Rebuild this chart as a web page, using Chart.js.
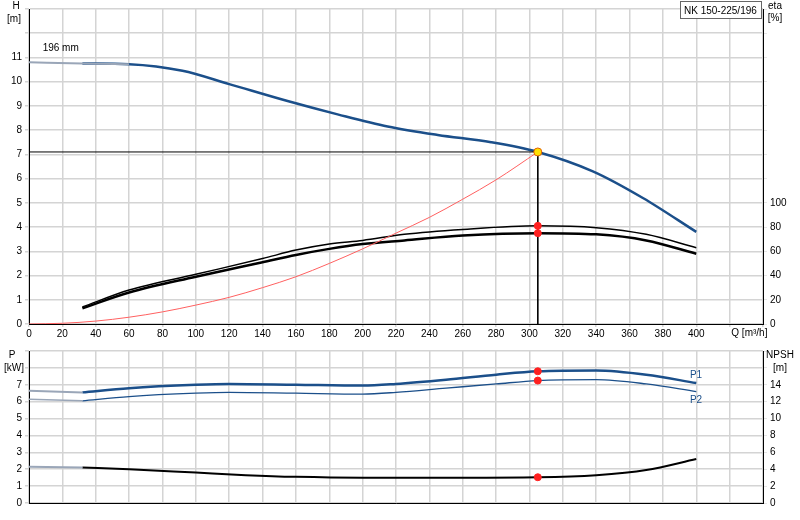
<!DOCTYPE html>
<html><head><meta charset="utf-8">
<script src="https://cdn.jsdelivr.net/npm/chart.js@4/dist/chart.umd.min.js"></script>
<style>body{margin:0;background:#fff;width:800px;height:520px;overflow:hidden;font-family:"Liberation Sans",Arial,sans-serif}
#w1{position:absolute;left:0;top:0;width:800px;height:340px}#w2{position:absolute;left:0;top:340px;width:800px;height:180px}</style>
</head><body>
<div id="w1"><canvas id="c1"></canvas></div><div id="w2"><canvas id="c2"></canvas></div>
<script>
// ---- data ----
const hQ   = [0, 32, 60, 92, 120, 155, 185, 215, 245, 277, 305, 338, 368, 400];
const hVal = [10.8, 10.75, 10.72, 10.45, 9.9, 9.2, 8.65, 8.15, 7.8, 7.5, 7.1, 6.3, 5.2, 3.8];
const etaQ  = [32, 60, 100, 140, 160, 180, 200, 225, 260, 305, 340, 370, 400];
const etaP  = [13, 26, 39, 51, 57, 62, 66, 69, 73, 75, 74, 69, 58];
const etaP1 = [14, 28, 41, 54, 61, 66, 69, 74, 78, 81, 79.5, 74, 63];
const sysQ = [0, 20, 40, 60, 80, 100, 120, 140, 160, 180, 200, 220, 240, 260, 280, 305];
const sysH = [0, 0.03, 0.12, 0.28, 0.5, 0.78, 1.1, 1.5, 1.95, 2.5, 3.1, 3.75, 4.4, 5.15, 5.95, 7.1];
const pQ  = [0, 32, 60, 100, 120, 160, 200, 220, 250, 280, 305, 340, 370, 400];
const p1  = [6.65, 6.55, 6.8, 7.0, 7.05, 7.0, 6.95, 7.05, 7.3, 7.6, 7.8, 7.85, 7.6, 7.1];
const p2  = [6.15, 6.05, 6.3, 6.5, 6.55, 6.5, 6.45, 6.55, 6.8, 7.05, 7.25, 7.3, 7.05, 6.6];
const npQ = [0, 32, 60, 100, 130, 160, 200, 260, 305, 340, 370, 400];
const npsh = [4.3, 4.2, 4.0, 3.6, 3.3, 3.1, 3.0, 3.0, 3.05, 3.3, 3.9, 5.2];
const dutyQ = 305, dutyH = 7.1, dutyEta = [81, 75], dutyP = [7.8, 7.25], dutyNpsh = 3.05;
const xTicksMax = 400;

const pts=(xs,ys,from,to)=>xs.map((x,i)=>({x,y:ys[i]})).filter(p=>p.x>=(from??-1)&&p.x<=(to??1e9));
const FONT={family:"'Liberation Sans', Arial, sans-serif",size:10};
Chart.defaults.font=FONT; Chart.defaults.color='#000';
const BLUE='#1b4f8a', GREY='#9aa6b8', GRID='#d4d4d4';
const fixW=w=>(s)=>{s.width=w;}; const fixH=h=>(s)=>{s.height=h;};
const ln=(data,color,w,axis)=>({type:'line',data,borderColor:color,borderWidth:w,pointRadius:0,cubicInterpolationMode:'monotone',yAxisID:axis||'y',fill:false,order:5});
const dot=(data,axis,bg,bc)=>({type:'scatter',data,yAxisID:axis||'y',backgroundColor:bg||'#ff2020',borderColor:bc||'#ff2020',borderWidth:1,pointRadius:3.5,order:0});

const textPlugin=(items)=>({id:'txt',afterDraw(c){const g=c.ctx;g.save();g.font="10px 'Liberation Sans', Arial";items(c,g);g.restore();}});

new Chart(document.getElementById('c1'),{
 data:{datasets:[
  ln(pts(hQ,hVal,0,60),GREY,2),
  ln(pts(hQ,hVal,32),BLUE,2.5),
  ln(pts(sysQ,sysH),'#ff6060',1),
  ln(pts(etaQ,etaP1),'#000',1.5,'y2'),
  ln(pts(etaQ,etaP),'#000',2.5,'y2'),
  {type:'line',data:[{x:0,y:dutyH},{x:dutyQ,y:dutyH},{x:dutyQ,y:0}],borderColor:'#000',borderWidth:1,pointRadius:0,tension:0,order:3},
  dot(dutyEta.map(v=>({x:dutyQ,y:v})),'y2'),
  Object.assign(dot([{x:dutyQ,y:dutyH}],'y','#ffe000','#e06000'),{pointRadius:4})
 ]},
 options:{animation:false,responsive:true,maintainAspectRatio:false,layout:{padding:{top:-7}},
  plugins:{legend:{display:false},tooltip:{enabled:false}},
  scales:{
   x:{type:'linear',min:0,max:440,afterFit:fixH(16),border:{color:'#000'},grid:{color:GRID,lineWidth:1.5,tickLength:3},
      ticks:{stepSize:20,padding:1,maxRotation:0,callback:v=>v<=xTicksMax?v:''}},
   y:{min:0,max:13,afterFit:fixW(29),border:{color:'#000'},grid:{color:GRID,lineWidth:1.5,tickLength:4},
      ticks:{stepSize:1,padding:3,callback:v=>v<=11?v:''}},
   y2:{position:'right',min:0,max:260,afterFit:fixW(37),border:{color:'#000'},grid:{drawOnChartArea:false,tickLength:4},
      ticks:{stepSize:20,padding:3,callback:v=>v<=100?v:''}}
  }},
 plugins:[textPlugin((c,g)=>{
  const x=c.scales.x,y=c.scales.y;
  g.fillStyle='#000';g.textAlign='center';
  g.fillText('H',16,9);g.fillText('[m]',14,22);
  g.fillText('eta',775,9);g.fillText('[%]',775,21);
  g.fillText('196 mm',x.getPixelForValue(19),y.getPixelForValue(11.25));
  g.textAlign='left';g.fillText('Q [m³/h]',x.getPixelForValue(421),336);
  g.fillStyle='#fff';g.fillRect(680,1,82,18);g.strokeStyle='#666';g.lineWidth=1;g.strokeRect(680.5,1.5,81,17);
  g.fillStyle='#000';g.fillText('NK 150-225/196',684,14);
 })]
});

new Chart(document.getElementById('c2'),{
 data:{datasets:[
  ln(pts(pQ,p1,0,32),GREY,2),
  ln(pts(pQ,p1,32),BLUE,2.5),
  ln(pts(pQ,p2,0,32),GREY,1.5),
  ln(pts(pQ,p2,32),BLUE,1.3),
  ln(pts(npQ,npsh,0,32),GREY,2,'y2'),
  ln(pts(npQ,npsh,32),'#000',2,'y2'),
  dot(dutyP.map(v=>({x:dutyQ,y:v}))),
  dot([{x:dutyQ,y:dutyNpsh}],'y2')
 ]},
 options:{animation:false,responsive:true,maintainAspectRatio:false,layout:{padding:{top:11}},
  plugins:{legend:{display:false},tooltip:{enabled:false}},
  scales:{
   x:{type:'linear',min:0,max:440,afterFit:fixH(17),border:{color:'#000'},grid:{color:GRID,lineWidth:1.5,tickLength:0},
      ticks:{stepSize:20,display:false}},
   y:{min:0,max:9,afterFit:fixW(29),border:{color:'#000'},grid:{color:GRID,lineWidth:1.5,tickLength:4},
      ticks:{stepSize:1,padding:3,callback:v=>v<=7?v:''}},
   y2:{position:'right',min:0,max:18,afterFit:fixW(37),border:{color:'#000'},grid:{drawOnChartArea:false,tickLength:4},
      ticks:{stepSize:2,padding:3,callback:v=>v<=14?v:''}}
  }},
 plugins:[textPlugin((c,g)=>{
  g.fillStyle='#000';g.textAlign='center';
  g.fillText('P',12,18);g.fillText('[kW]',14,31);
  g.fillText('NPSH',780,18);g.fillText('[m]',780,31);
  g.fillStyle=BLUE;g.fillText('P1',696,38);g.fillText('P2',696,63);
 })]
});
</script></body></html>
